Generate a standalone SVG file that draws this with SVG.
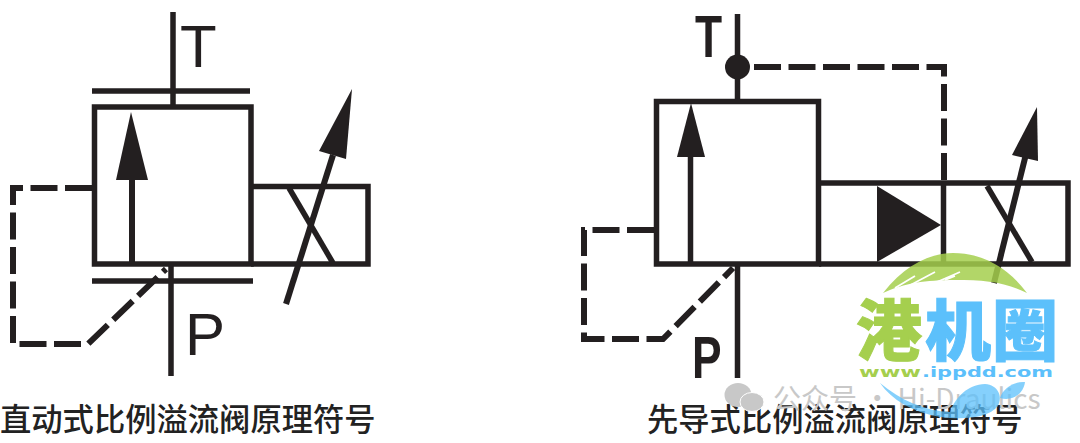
<svg xmlns="http://www.w3.org/2000/svg" width="1080" height="443" viewBox="0 0 1080 443">
<style>
.l{fill:none;stroke:#231f20;stroke-width:5.500}
.t{stroke-width:6}
.d{fill:none;stroke:#231f20;stroke-width:6;stroke-dasharray:27 7.500}
.f{fill:#231f20}
.lab{font-family:"Liberation Sans",Arial,sans-serif;fill:#231f20;font-size:60px}
.cap{font-family:"Noto Sans CJK SC","Noto Sans",sans-serif;fill:#222;font-size:31.300px;font-weight:500}
.wm{font-family:"Noto Sans CJK SC",sans-serif;font-weight:900;font-size:66px;stroke-width:1}
.g{fill:#a5cf4e;stroke:#a5cf4e}
.b{fill:#5cc0fb;stroke:#5cc0fb}
.url{font-family:"DejaVu Sans",sans-serif;font-weight:700;font-size:14px;stroke-width:0}
</style>
<rect width="1080" height="443" fill="#fff"/>
<g id="connectors">
<path class="d" d="M92 188H13V344H88L166 269"/>
<path class="d" d="M754 67H944V184"/>
<path class="d" d="M654 230H584V339H663L733 268"/>
<path class="l" d="M173 12V105M92 91H250M171 266V376M92 281H253"/>
<path class="l" d="M737.500 14V100M737.500 266V378"/>
</g>
<g id="valve-direct">
<rect class="l" x="94.500" y="107" width="156.500" height="157"/>
<path class="l t" d="M132 178V264"/>
<polygon class="f" points="131,112 116,180 148,180"/>
</g>
<g id="solenoid-direct">
<path class="l" d="M251 186.500H368V264H251"/>
<path class="l" d="M289 188L333 263"/>
<path class="l t" d="M286 304L333 155"/>
<polygon class="f" points="352,89 319,151 346,159"/>
</g>
<g id="valve-pilot">
<rect class="l" x="656.500" y="101.500" width="162" height="162.500"/>
<path class="l" d="M690.500 155V264"/>
<polygon class="f" points="691,103 677,157 705,157"/>
<circle class="f" cx="737.500" cy="67" r="12.500"/>
</g>
<g id="solenoid-pilot">
<path class="l" d="M819 183H1068V264H819"/>
<path class="l" d="M943.500 184V264"/>
<polygon class="f" points="877,186 877,262 941,225"/>
<path class="l" d="M987 186L1032 262"/>
<path class="l t" d="M994 283L1027 150"/>
<polygon class="f" points="1037,107 1012,155 1038,161"/>
</g>
<g id="labels">
<text class="lab" x="180" y="67">T</text>
<text class="lab" x="185" y="355">P</text>
<text class="lab" transform="translate(695 57) scale(.74 1)" font-weight="700">T</text>
<text class="lab" transform="translate(692 378) scale(.74 1)" font-weight="700">P</text>
<text class="cap" x="0" y="431">直动式比例溢流阀原理符号</text>
<text class="cap" x="647" y="431">先导式比例溢流阀原理符号</text>
</g>
<g id="watermark">
<text x="773" y="409" font-family="Noto Sans CJK SC,sans-serif" font-size="28" fill="#c8c8c8">公众号 · Hi-Draulics</text>
<ellipse cx="738" cy="395" rx="13.500" ry="12" fill="#c8c8c8"/>
<ellipse cx="752" cy="402" rx="12" ry="9.500" fill="#c8c8c8" stroke="#fff"/>
<path d="M883 293C905 265 930 253 953 253C985 253 1010 270 1027 293C1005 282 985 280 955 280C925 280 905 283 883 293Z" fill="#a5cf4e" fill-opacity=".85"/>
<path d="M895 288L915 276M903 289L935 272M930 285L960 272M945 280L955 276" stroke="#fff" stroke-width="1.800" fill="none"/>
<text class="wm g" x="856" y="355">港</text>
<text class="wm b" x="925" y="355">机</text>
<text class="wm b" x="992" y="355">圈</text>
<text class="url g" x="859" y="377" textLength="62" lengthAdjust="spacingAndGlyphs">www</text>
<text class="url b" x="922" y="377" textLength="131" lengthAdjust="spacingAndGlyphs">.ippdd.com</text>
<path d="M880 383C900 400 925 411 950 412C955 398 968 384 985 384C998 385 1003 396 998 406C988 418 965 420 940 417C912 412 892 400 880 383Z" fill="#5cc0fb" fill-opacity=".75"/>
<path d="M1000 398C1003 388 1015 381 1025 382C1024 392 1014 402 1000 398Z" fill="#5cc0fb" fill-opacity=".75"/>
</g>
</svg>
